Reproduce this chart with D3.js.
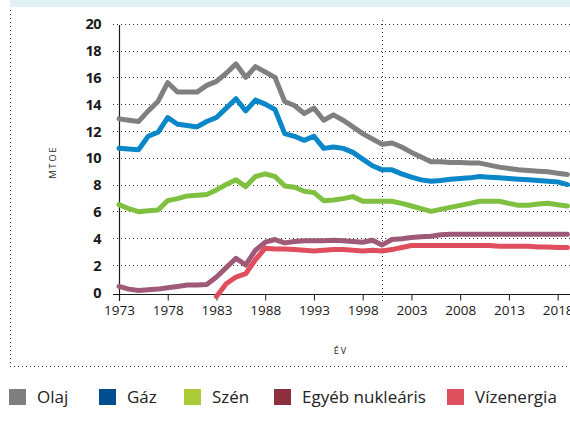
<!DOCTYPE html>
<html><head><meta charset="utf-8">
<script src="https://cdn.jsdelivr.net/npm/d3@7"></script>
<style>
html,body{margin:0;padding:0;background:#fff;}
svg{display:block;font-family:"Open Sans",sans-serif;}
</style></head>
<body><svg id="c" width="570" height="424"></svg>
<script>
const years = [1973,1974,1975,1976,1977,1978,1979,1980,1981,1982,1983,1984,1985,1986,1987,1988,1989,1990,1991,1992,1993,1994,1995,1996,1997,1998,1999,2000,2001,2002,2003,2004,2005,2006,2007,2008,2009,2010,2011,2012,2013,2014,2015,2016,2017,2018,2019];
const olaj = [12.9,12.8,12.7,13.5,14.2,15.6,14.9,14.9,14.9,15.4,15.7,16.3,17.0,16.0,16.8,16.4,16.0,14.2,13.9,13.3,13.7,12.8,13.2,12.8,12.3,11.8,11.4,11.0,11.1,10.8,10.4,10.05,9.7,9.7,9.65,9.65,9.6,9.6,9.45,9.3,9.2,9.1,9.05,9.0,8.95,8.85,8.75];
const gaz = [10.7,10.65,10.6,11.6,11.9,13.0,12.5,12.4,12.3,12.7,13.0,13.7,14.4,13.5,14.3,14.0,13.6,11.8,11.6,11.3,11.6,10.7,10.8,10.7,10.4,9.9,9.4,9.1,9.1,8.8,8.55,8.35,8.25,8.3,8.4,8.45,8.5,8.6,8.55,8.5,8.45,8.4,8.35,8.3,8.25,8.2,8.0];
const szen = [6.5,6.2,5.98,6.05,6.1,6.8,6.95,7.15,7.2,7.25,7.6,8.0,8.35,7.85,8.6,8.8,8.6,7.9,7.8,7.5,7.4,6.8,6.85,6.95,7.1,6.75,6.75,6.75,6.75,6.6,6.4,6.2,6.0,6.15,6.3,6.45,6.6,6.75,6.75,6.75,6.6,6.45,6.45,6.55,6.6,6.5,6.4];
const nuklearis = [0.4,0.2,0.1,0.15,0.2,0.3,0.4,0.5,0.5,0.55,1.1,1.8,2.5,2.0,3.1,3.7,3.9,3.65,3.75,3.8,3.8,3.8,3.85,3.8,3.75,3.7,3.85,3.5,3.9,3.95,4.05,4.1,4.15,4.25,4.3,4.3,4.3,4.3,4.3,4.3,4.3,4.3,4.3,4.3,4.3,4.3,4.3];
const vizenergia = [null,null,null,null,null,null,null,null,null,null,-0.35,0.6,1.1,1.35,2.4,3.25,3.2,3.2,3.15,3.1,3.05,3.1,3.15,3.15,3.1,3.05,3.1,3.05,3.15,3.3,3.45,3.45,3.45,3.45,3.45,3.45,3.45,3.45,3.45,3.4,3.4,3.4,3.4,3.35,3.35,3.3,3.3];
const seriesNames = ["Olaj","Gáz","Szén","Egyéb nukleáris","Vízenergia"];
const lineColors = ["#808080","#0a87c8","#80c041","#9e5a77","#e04e5e"];
const legendColors = ["#7f7f7f","#004d8f","#a9cb38","#8d2f3d","#df505f"];
const yTicks = [0,2,4,6,8,10,12,14,16,18,20];
const xTicks = [1973,1978,1983,1988,1993,1998,2003,2008,2013,2018];
const markerYear = 2000;

const svg = d3.select("#c");
const x = d3.scaleLinear().domain([1973,2019]).range([119,567.4]);
const y = d3.scaleLinear().domain([0,20]).range([291.8,23.7]);

// top band
svg.append("rect").attr("x",10).attr("y",0).attr("width",560).attr("height",7).attr("fill","#e0f1f8");
// frame dotted
svg.append("line").attr("x1",10.5).attr("x2",10.5).attr("y1",10).attr("y2",366)
  .attr("stroke","#333").attr("stroke-width",1).attr("stroke-dasharray","1,3");
svg.append("line").attr("x1",10).attr("x2",570).attr("y1",366.5).attr("y2",366.5)
  .attr("stroke","#333").attr("stroke-width",1).attr("stroke-dasharray","1,3");

// gridlines
svg.append("g").selectAll("line").data(yTicks.filter(d=>d>0)).join("line")
  .attr("x1",113).attr("x2",570)
  .attr("y1",d=>Math.round(y(d))+0.5).attr("y2",d=>Math.round(y(d))+0.5)
  .attr("stroke","#333").attr("stroke-width",1).attr("stroke-dasharray","1,3");
// marker year vertical
svg.append("line").attr("x1",Math.round(x(markerYear))+0.5).attr("x2",Math.round(x(markerYear))+0.5)
  .attr("y1",20).attr("y2",301)
  .attr("stroke","#333").attr("stroke-width",1).attr("stroke-dasharray","1,3");

// y axis labels
const yAxis = d3.axisLeft(y).tickValues(yTicks).tickSize(0).tickPadding(0).tickFormat(d3.format("d"));
const gy = svg.append("g").attr("transform","translate(101,0)").call(yAxis);
gy.select(".domain").remove();
gy.selectAll("text").attr("font-family","Open Sans").attr("font-weight","bold")
  .attr("font-size","14.5px").attr("fill","#1a1a1a").attr("letter-spacing","-0.6px").attr("dy","0.36em");

// y axis line
svg.append("line").attr("x1",119.5).attr("x2",119.5).attr("y1",25).attr("y2",301)
  .attr("stroke","#1a1a1a").attr("stroke-width",1.2);

// x axis
const xAxis = d3.axisBottom(x).tickValues(xTicks).tickSize(6).tickPadding(5).tickFormat(d3.format("d"));
const gx = svg.append("g").attr("transform","translate(0,294.5)").call(xAxis);
gx.select(".domain").remove();
gx.append("line").attr("x1",113).attr("x2",570).attr("y1",0).attr("y2",0).attr("stroke","#1a1a1a").attr("stroke-width",1.2);
gx.selectAll(".tick line").attr("stroke","#1a1a1a").attr("stroke-width",1);
gx.selectAll("text").attr("font-family","Open Sans").attr("font-size","13.5px").attr("fill","#1a1a1a");

// axis titles
svg.append("text").attr("transform","translate(56,162) rotate(-90)").attr("text-anchor","middle")
  .attr("font-size","9px").attr("letter-spacing","2px").attr("fill","#1a1a1a").text("MTOE");
svg.append("text").attr("x",341).attr("y",354).attr("text-anchor","middle")
  .attr("font-size","9px").attr("letter-spacing","2px").attr("fill","#1a1a1a").text("ÉV");

// lines
const allSeries = [olaj,gaz,szen,nuklearis,vizenergia];
const line = d3.line().defined(d=>d[1]!==null).x(d=>x(d[0])).y(d=>y(d[1]));
allSeries.forEach((s,i)=>{
  svg.append("path").datum(years.map((yr,j)=>[yr,s[j]]))
    .attr("d",line).attr("fill","none").attr("stroke",lineColors[i])
    .attr("stroke-width",5).attr("stroke-linejoin","round").attr("stroke-linecap","round");
});

// legend
const legX = [9,99,184,274,447];
const lg = svg.append("g");
seriesNames.forEach((n,i)=>{
  lg.append("rect").attr("x",legX[i]).attr("y",389).attr("width",17).attr("height",16).attr("fill",legendColors[i]);
  lg.append("text").attr("x",legX[i]+28).attr("y",397).attr("dy","0.35em")
    .attr("font-size","17px").attr("fill","#222").text(n);
});
</script></body></html>
